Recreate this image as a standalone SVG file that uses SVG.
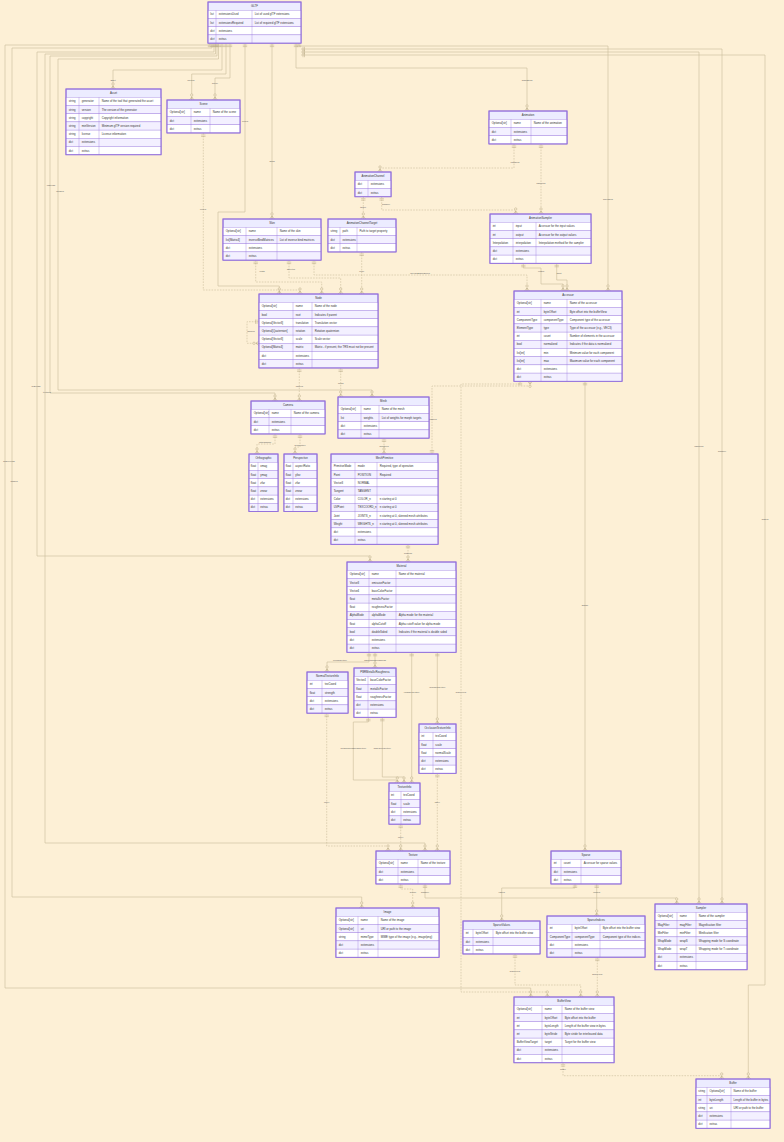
<svg xmlns="http://www.w3.org/2000/svg" width="784" height="1142" viewBox="0 0 784 1142">
<defs>
<style>
text{font-family:"Liberation Sans",Arial,sans-serif;font-size:2.8px;fill:#333}
.t{text-anchor:middle}
.b{fill:#ececff;stroke:#9370db;stroke-width:0.9}
.f{fill:none;stroke:#9370db;stroke-width:0.9}
.o{fill:#ffffff;stroke:#9370db;stroke-width:0.35}
.e{fill:#f3f0ff;stroke:#9370db;stroke-width:0.35}
.cl{fill:none;stroke:#9370db;stroke-width:0.35}
.c{fill:none;stroke:#c9bc9a;stroke-width:0.6;marker-start:url(#m1);marker-end:url(#m2)}
.d{stroke-dasharray:1.6 1.2}
.lb{font-size:2.2px;fill:#555;text-anchor:middle}
</style>
<marker id="m1" viewBox="0 0 6 6" refX="0" refY="3" markerWidth="6" markerHeight="6" markerUnits="userSpaceOnUse" orient="auto"><path d="M2 0.8V5.2M3.5 0.8V5.2" fill="none" stroke="#b9ab86" stroke-width="0.5"/></marker>
<marker id="m2" viewBox="0 0 8 6" refX="8" refY="3" markerWidth="8" markerHeight="6" markerUnits="userSpaceOnUse" orient="auto"><circle cx="3" cy="3" r="1.2" fill="#fdf0d6" stroke="#b9ab86" stroke-width="0.5"/><path d="M5 3L8 0.6M5 3L8 5.4M5 3H8" fill="none" stroke="#b9ab86" stroke-width="0.5"/></marker>
</defs>
<rect x="0" y="0" width="784" height="1142" fill="#fdf0d6"/>

<g id="connectors">
<path class="c" d="M210,43.1 V45 H5 V988 H530.7 V997"/>
<path class="c" d="M212,43.1 V48 H12 V897 H361.7 V908"/>
<path class="c" d="M214,43.1 V52 H37 V556 H370 V562"/>
<path class="c" d="M215.5,43.1 V54 H45 V843 H425 V851"/>
<path class="c" d="M217,43.1 V56 H50 V393 H275 V401"/>
<path class="c" d="M218.5,43.1 V59 H58 V390 H372 V397"/>
<path class="c" d="M222,43.1 V70 H113 V89"/>
<path class="c" d="M226,43.1 V74 H191.7 V100"/>
<path class="c" d="M230,43.1 V78 H215 V100"/>
<path class="c" d="M245,43.1 V212 H218 V286 H279.3 V294"/>
<path class="c" d="M272,43.1 V219"/>
<path class="c" d="M296,43.1 V68 H527 V111"/>
<path class="c" d="M299,43.1 V46 H608 V291"/>
<path class="c" d="M301,49 H722 V904"/>
<path class="c" d="M301,52 H699 V904"/>
<path class="c" d="M301,55 H765 V985 H748.3 V1079"/>
<path class="c d" d="M203.3,133 V290 H300 V294"/>
<path class="c d" d="M514,144 V168 H380 V172"/>
<path class="c d" d="M541,144 V214"/>
<path class="c d" d="M363.3,196.7 V219"/>
<path class="c d" d="M381.7,196.7 V210 H515.7 V214"/>
<path class="c" d="M523.3,263.3 V268 H541 V284 H563 V291"/>
<path class="c" d="M556.7,263.3 V280 H567 V291"/>
<path class="c d" d="M361.7,252 V294"/>
<path class="c d" d="M255.7,260.1 V282 H321.7 V294"/>
<path class="c d" d="M289,260.1 V278 H340.7 V294"/>
<path class="c d" d="M314,260.1 V275 H527 V291"/>
<path class="c d" d="M259,321.7 H247 V343.3 H259"/>
<path class="c d" d="M299.3,368 V401"/>
<path class="c d" d="M340.7,368 V397"/>
<path class="c d" d="M275,434 V444 H257 V454"/>
<path class="c d" d="M300,434 V447 H295 V454"/>
<path class="c d" d="M384,438 V454"/>
<path class="c d" d="M432,454 V386 H530 V381.3"/>
<path class="c d" d="M408,544.3 V562"/>
<path class="c" d="M369,652.3 V662 H327 V672"/>
<path class="c" d="M375,652.3 V668"/>
<path class="c" d="M411.7,652.3 V783"/>
<path class="c" d="M437.3,652.3 V724"/>
<path class="c" d="M368.3,717.3 V722 H353.3 V780 H397.3 V783"/>
<path class="c" d="M382.3,717.3 V777 H404 V783"/>
<path class="c d" d="M326.7,713.1 V846 H388 V851"/>
<path class="c d" d="M400.7,824.1 V851"/>
<path class="c d" d="M437.3,773.3 V851"/>
<path class="c d" d="M400.7,884 V889 H412.7 V908"/>
<path class="c" d="M425,884 V898 H676.7 V904"/>
<path class="c" d="M585,381.3 V851"/>
<path class="c" d="M575,884 V888 H501.7 V921"/>
<path class="c" d="M596.7,884 V916"/>
<path class="c d" d="M515,953.9 V985 H580.7 V997"/>
<path class="c d" d="M597.3,957.1 V997"/>
<path class="c d" d="M520,381.3 V384 H461 V992 H547.3 V997"/>
<path class="c d" d="M563,1062.7 V1075.7 H721.7 V1079"/>
</g>
<g id="labels">
<text class="lb" x="9" y="462">bufferViews</text>
<text class="lb" x="14" y="482">images</text>
<text class="lb" x="36" y="387">materials</text>
<text class="lb" x="47" y="393">textures</text>
<text class="lb" x="51" y="186">cameras</text>
<text class="lb" x="60" y="192">meshes</text>
<text class="lb" x="113" y="81">asset</text>
<text class="lb" x="191" y="81">scenes</text>
<text class="lb" x="215" y="84">scene</text>
<text class="lb" x="245" y="122">nodes</text>
<text class="lb" x="272" y="162">skins</text>
<text class="lb" x="527" y="81">animations</text>
<text class="lb" x="608" y="200">accessors</text>
<text class="lb" x="699" y="447">samplers</text>
<text class="lb" x="722" y="452">sampler</text>
<text class="lb" x="765" y="520">buffers</text>
<text class="lb" x="203" y="210">nodes</text>
<text class="lb" x="515" y="163">channels</text>
<text class="lb" x="541" y="184">samplers</text>
<text class="lb" x="363" y="208">target</text>
<text class="lb" x="386" y="205">sampler</text>
<text class="lb" x="541" y="272">output</text>
<text class="lb" x="559" y="274">input</text>
<text class="lb" x="361.7" y="272">node</text>
<text class="lb" x="262" y="272">joints</text>
<text class="lb" x="291" y="270">skeleton</text>
<text class="lb" x="420" y="274">inverseBindMatrices</text>
<text class="lb" x="251" y="332">children</text>
<text class="lb" x="299.3" y="387">camera</text>
<text class="lb" x="340.7" y="384">mesh</text>
<text class="lb" x="265" y="443">orthographic</text>
<text class="lb" x="300" y="446">perspective</text>
<text class="lb" x="384" y="447">primitives</text>
<text class="lb" x="432" y="420">attributes</text>
<text class="lb" x="408" y="554">material</text>
<text class="lb" x="340" y="661">normalTexture</text>
<text class="lb" x="375" y="661">pbrMetallicRoughness</text>
<text class="lb" x="411.7" y="693">emissiveTexture</text>
<text class="lb" x="437.3" y="688">occlusionTexture</text>
<text class="lb" x="353.3" y="749">metallicRoughnessTexture</text>
<text class="lb" x="382.3" y="749">baseColorTexture</text>
<text class="lb" x="326.7" y="803">index</text>
<text class="lb" x="400.7" y="838">index</text>
<text class="lb" x="437.3" y="803">index</text>
<text class="lb" x="413" y="893">source</text>
<text class="lb" x="425" y="893">sampler</text>
<text class="lb" x="585" y="606">sparse</text>
<text class="lb" x="501.7" y="893">values</text>
<text class="lb" x="596.7" y="893">indices</text>
<text class="lb" x="515" y="972">bufferView</text>
<text class="lb" x="597.3" y="975">bufferView</text>
<text class="lb" x="461" y="693">bufferView</text>
<text class="lb" x="563" y="1070">buffer</text>
</g>

<g id="n-gltf">
<rect class="b" x="208" y="2" width="93" height="41.1"/>
<rect class="o" x="208" y="10.3" width="93" height="8.2"/><rect class="e" x="208" y="18.5" width="93" height="8.2"/><rect class="o" x="208" y="26.7" width="93" height="8.2"/><rect class="e" x="208" y="34.9" width="93" height="8.2"/>
<path class="cl" d="M216 10.3V43.1M252 10.3V43.1"/><rect class="f" x="208" y="2" width="93" height="41.1"/>
<text class="t" x="254.5" y="7.2">GLTF</text>
<text x="210.3" y="15.4">list</text><text x="218.7" y="15.4">extensionsUsed</text><text x="254.7" y="15.4">List of used glTF extensions</text>
<text x="210.3" y="23.6">list</text><text x="218.7" y="23.6">extensionsRequired</text><text x="254.7" y="23.6">List of required glTF extensions</text>
<text x="210.3" y="31.8">dict</text><text x="218.7" y="31.8">extensions</text>
<text x="210.3" y="40">dict</text><text x="218.7" y="40">extras</text>
</g>

<g id="n-asset">
<rect class="b" x="66" y="89" width="95" height="65.7"/>
<rect class="o" x="66" y="97.3" width="95" height="8.2"/><rect class="e" x="66" y="105.5" width="95" height="8.2"/><rect class="o" x="66" y="113.7" width="95" height="8.2"/><rect class="e" x="66" y="121.9" width="95" height="8.2"/><rect class="o" x="66" y="130.1" width="95" height="8.2"/><rect class="e" x="66" y="138.3" width="95" height="8.2"/><rect class="o" x="66" y="146.5" width="95" height="8.2"/>
<path class="cl" d="M79 97.3V154.7M99 97.3V154.7"/><rect class="f" x="66" y="89" width="95" height="65.7"/>
<text class="t" x="113.5" y="94.2">Asset</text>
<text x="68.7" y="102.4">string</text><text x="81.7" y="102.4">generator</text><text x="101.7" y="102.4">Name of the tool that generated the asset</text>
<text x="68.7" y="110.6">string</text><text x="81.7" y="110.6">version</text><text x="101.7" y="110.6">The version of the generator</text>
<text x="68.7" y="118.8">string</text><text x="81.7" y="118.8">copyright</text><text x="101.7" y="118.8">Copyright information</text>
<text x="68.7" y="127">string</text><text x="81.7" y="127">minVersion</text><text x="101.7" y="127">Minimum glTF version required</text>
<text x="68.7" y="135.2">string</text><text x="81.7" y="135.2">license</text><text x="101.7" y="135.2">License information</text>
<text x="68.7" y="143.4">dict</text><text x="81.7" y="143.4">extensions</text>
<text x="68.7" y="151.6">dict</text><text x="81.7" y="151.6">extras</text>
</g>

<g id="n-scene">
<rect class="b" x="167" y="100" width="73" height="32.9"/>
<rect class="o" x="167" y="108.3" width="73" height="8.2"/><rect class="e" x="167" y="116.5" width="73" height="8.2"/><rect class="o" x="167" y="124.7" width="73" height="8.2"/>
<path class="cl" d="M191 108.3V132.9M210 108.3V132.9"/><rect class="f" x="167" y="100" width="73" height="32.9"/>
<text class="t" x="203.5" y="105.2">Scene</text>
<text x="169.7" y="113.4">Optional[str]</text><text x="193.7" y="113.4">name</text><text x="212.7" y="113.4">Name of the scene</text>
<text x="169.7" y="121.6">dict</text><text x="193.7" y="121.6">extensions</text>
<text x="169.7" y="129.8">dict</text><text x="193.7" y="129.8">extras</text>
</g>

<g id="n-animation">
<rect class="b" x="489" y="111" width="78" height="32.9"/>
<rect class="o" x="489" y="119.3" width="78" height="8.2"/><rect class="e" x="489" y="127.5" width="78" height="8.2"/><rect class="o" x="489" y="135.7" width="78" height="8.2"/>
<path class="cl" d="M511 119.3V143.9M531 119.3V143.9"/><rect class="f" x="489" y="111" width="78" height="32.9"/>
<text class="t" x="528" y="116.2">Animation</text>
<text x="491.7" y="124.4">Optional[str]</text><text x="513.7" y="124.4">name</text><text x="533.7" y="124.4">Name of the animation</text>
<text x="491.7" y="132.6">dict</text><text x="513.7" y="132.6">extensions</text>
<text x="491.7" y="140.8">dict</text><text x="513.7" y="140.8">extras</text>
</g>

<g id="n-animationchannel">
<rect class="b" x="355" y="172" width="36" height="24.7"/>
<rect class="o" x="355" y="180.3" width="36" height="8.2"/><rect class="e" x="355" y="188.5" width="36" height="8.2"/>
<path class="cl" d="M368 180.3V196.7"/><rect class="f" x="355" y="172" width="36" height="24.7"/>
<text class="t" x="373" y="177.2">AnimationChannel</text>
<text x="357.7" y="185.4">dict</text><text x="370.7" y="185.4">extensions</text>
<text x="357.7" y="193.6">dict</text><text x="370.7" y="193.6">extras</text>
</g>

<g id="n-skin">
<rect class="b" x="223" y="219" width="98" height="41.1"/>
<rect class="o" x="223" y="227.3" width="98" height="8.2"/><rect class="e" x="223" y="235.5" width="98" height="8.2"/><rect class="o" x="223" y="243.7" width="98" height="8.2"/><rect class="e" x="223" y="251.9" width="98" height="8.2"/>
<path class="cl" d="M246 227.3V260.1M277 227.3V260.1"/><rect class="f" x="223" y="219" width="98" height="41.1"/>
<text class="t" x="272" y="224.2">Skin</text>
<text x="225.7" y="232.4">Optional[str]</text><text x="248.7" y="232.4">name</text><text x="279.7" y="232.4">Name of the skin</text>
<text x="225.7" y="240.6">list[Matrix4]</text><text x="248.7" y="240.6">inverseBindMatrices</text><text x="279.7" y="240.6">List of inverse bind matrices</text>
<text x="225.7" y="248.8">dict</text><text x="248.7" y="248.8">extensions</text>
<text x="225.7" y="257">dict</text><text x="248.7" y="257">extras</text>
</g>

<g id="n-animationchanneltarget">
<rect class="b" x="328" y="219" width="68" height="32.9"/>
<rect class="o" x="328" y="227.3" width="68" height="8.2"/><rect class="e" x="328" y="235.5" width="68" height="8.2"/><rect class="o" x="328" y="243.7" width="68" height="8.2"/>
<path class="cl" d="M340 227.3V251.9M357 227.3V251.9"/><rect class="f" x="328" y="219" width="68" height="32.9"/>
<text class="t" x="362" y="224.2">AnimationChannelTarget</text>
<text x="330.5" y="232.4">string</text><text x="342.5" y="232.4">path</text><text x="359.5" y="232.4">Path to target property</text>
<text x="330.5" y="240.6">dict</text><text x="342.5" y="240.6">extensions</text>
<text x="330.5" y="248.8">dict</text><text x="342.5" y="248.8">extras</text>
</g>

<g id="n-animationsampler">
<rect class="b" x="490" y="214" width="101" height="49.3"/>
<rect class="o" x="490" y="222.3" width="101" height="8.2"/><rect class="e" x="490" y="230.5" width="101" height="8.2"/><rect class="o" x="490" y="238.7" width="101" height="8.2"/><rect class="e" x="490" y="246.9" width="101" height="8.2"/><rect class="o" x="490" y="255.1" width="101" height="8.2"/>
<path class="cl" d="M513 222.3V263.3M536 222.3V263.3"/><rect class="f" x="490" y="214" width="101" height="49.3"/>
<text class="t" x="540.5" y="219.2">AnimationSampler</text>
<text x="492.7" y="227.4">int</text><text x="515.7" y="227.4">input</text><text x="538.7" y="227.4">Accessor for the input values</text>
<text x="492.7" y="235.6">int</text><text x="515.7" y="235.6">output</text><text x="538.7" y="235.6">Accessor for the output values</text>
<text x="492.7" y="243.8">Interpolation</text><text x="515.7" y="243.8">interpolation</text><text x="538.7" y="243.8">Interpolation method for the sampler</text>
<text x="492.7" y="252">dict</text><text x="515.7" y="252">extensions</text>
<text x="492.7" y="260.2">dict</text><text x="515.7" y="260.2">extras</text>
</g>

<g id="n-accessor">
<rect class="b" x="514" y="291" width="108" height="90.3"/>
<rect class="o" x="514" y="299.3" width="108" height="8.2"/><rect class="e" x="514" y="307.5" width="108" height="8.2"/><rect class="o" x="514" y="315.7" width="108" height="8.2"/><rect class="e" x="514" y="323.9" width="108" height="8.2"/><rect class="o" x="514" y="332.1" width="108" height="8.2"/><rect class="e" x="514" y="340.3" width="108" height="8.2"/><rect class="o" x="514" y="348.5" width="108" height="8.2"/><rect class="e" x="514" y="356.7" width="108" height="8.2"/><rect class="o" x="514" y="364.9" width="108" height="8.2"/><rect class="e" x="514" y="373.1" width="108" height="8.2"/>
<path class="cl" d="M541 299.3V381.3M567 299.3V381.3"/><rect class="f" x="514" y="291" width="108" height="90.3"/>
<text class="t" x="568" y="296.2">Accessor</text>
<text x="516.7" y="304.4">Optional[str]</text><text x="543.7" y="304.4">name</text><text x="569.7" y="304.4">Name of the accessor</text>
<text x="516.7" y="312.6">int</text><text x="543.7" y="312.6">byteOffset</text><text x="569.7" y="312.6">Byte offset into the bufferView</text>
<text x="516.7" y="320.8">ComponentType</text><text x="543.7" y="320.8">componentType</text><text x="569.7" y="320.8">Component type of the accessor</text>
<text x="516.7" y="329">ElementType</text><text x="543.7" y="329">type</text><text x="569.7" y="329">Type of the accessor (e.g., VEC3)</text>
<text x="516.7" y="337.2">int</text><text x="543.7" y="337.2">count</text><text x="569.7" y="337.2">Number of elements in the accessor</text>
<text x="516.7" y="345.4">bool</text><text x="543.7" y="345.4">normalized</text><text x="569.7" y="345.4">Indicates if the data is normalized</text>
<text x="516.7" y="353.6">list[int]</text><text x="543.7" y="353.6">min</text><text x="569.7" y="353.6">Minimum value for each component</text>
<text x="516.7" y="361.8">list[int]</text><text x="543.7" y="361.8">max</text><text x="569.7" y="361.8">Maximum value for each component</text>
<text x="516.7" y="370">dict</text><text x="543.7" y="370">extensions</text>
<text x="516.7" y="378.2">dict</text><text x="543.7" y="378.2">extras</text>
</g>

<g id="n-node">
<rect class="b" x="259" y="294" width="119" height="73.9"/>
<rect class="o" x="259" y="302.3" width="119" height="8.2"/><rect class="e" x="259" y="310.5" width="119" height="8.2"/><rect class="o" x="259" y="318.7" width="119" height="8.2"/><rect class="e" x="259" y="326.9" width="119" height="8.2"/><rect class="o" x="259" y="335.1" width="119" height="8.2"/><rect class="e" x="259" y="343.3" width="119" height="8.2"/><rect class="o" x="259" y="351.5" width="119" height="8.2"/><rect class="e" x="259" y="359.7" width="119" height="8.2"/>
<path class="cl" d="M293 302.3V367.9M312 302.3V367.9"/><rect class="f" x="259" y="294" width="119" height="73.9"/>
<text class="t" x="318.5" y="299.2">Node</text>
<text x="261.7" y="307.4">Optional[str]</text><text x="295.7" y="307.4">name</text><text x="314.7" y="307.4">Name of the node</text>
<text x="261.7" y="315.6">bool</text><text x="295.7" y="315.6">root</text><text x="314.7" y="315.6">Indicates if parent</text>
<text x="261.7" y="323.8">Optional[Vector3]</text><text x="295.7" y="323.8">translation</text><text x="314.7" y="323.8">Translation vector</text>
<text x="261.7" y="332">Optional[Quaternion]</text><text x="295.7" y="332">rotation</text><text x="314.7" y="332">Rotation quaternion</text>
<text x="261.7" y="340.2">Optional[Vector3]</text><text x="295.7" y="340.2">scale</text><text x="314.7" y="340.2">Scale vector</text>
<text x="261.7" y="348.4">Optional[Matrix4]</text><text x="295.7" y="348.4">matrix</text><text x="314.7" y="348.4">Matrix - if present, the TRS must not be present</text>
<text x="261.7" y="356.6">dict</text><text x="295.7" y="356.6">extensions</text>
<text x="261.7" y="364.8">dict</text><text x="295.7" y="364.8">extras</text>
</g>

<g id="n-camera">
<rect class="b" x="251" y="401" width="74" height="32.9"/>
<rect class="o" x="251" y="409.3" width="74" height="8.2"/><rect class="e" x="251" y="417.5" width="74" height="8.2"/><rect class="o" x="251" y="425.7" width="74" height="8.2"/>
<path class="cl" d="M269 409.3V433.9M291 409.3V433.9"/><rect class="f" x="251" y="401" width="74" height="32.9"/>
<text class="t" x="288" y="406.2">Camera</text>
<text x="253.7" y="414.4">Optional[str]</text><text x="271.7" y="414.4">name</text><text x="293.7" y="414.4">Name of the camera</text>
<text x="253.7" y="422.6">dict</text><text x="271.7" y="422.6">extensions</text>
<text x="253.7" y="430.8">dict</text><text x="271.7" y="430.8">extras</text>
</g>

<g id="n-mesh">
<rect class="b" x="338" y="397" width="91" height="41.1"/>
<rect class="o" x="338" y="405.3" width="91" height="8.2"/><rect class="e" x="338" y="413.5" width="91" height="8.2"/><rect class="o" x="338" y="421.7" width="91" height="8.2"/><rect class="e" x="338" y="429.9" width="91" height="8.2"/>
<path class="cl" d="M361 405.3V438.1M379 405.3V438.1"/><rect class="f" x="338" y="397" width="91" height="41.1"/>
<text class="t" x="383.5" y="402.2">Mesh</text>
<text x="340.7" y="410.4">Optional[str]</text><text x="363.7" y="410.4">name</text><text x="381.7" y="410.4">Name of the mesh</text>
<text x="340.7" y="418.6">list</text><text x="363.7" y="418.6">weights</text><text x="381.7" y="418.6">List of weights for morph targets</text>
<text x="340.7" y="426.8">dict</text><text x="363.7" y="426.8">extensions</text>
<text x="340.7" y="435">dict</text><text x="363.7" y="435">extras</text>
</g>

<g id="n-orthographic">
<rect class="b" x="249" y="454" width="29" height="57.5"/>
<rect class="o" x="249" y="462.3" width="29" height="8.2"/><rect class="e" x="249" y="470.5" width="29" height="8.2"/><rect class="o" x="249" y="478.7" width="29" height="8.2"/><rect class="e" x="249" y="486.9" width="29" height="8.2"/><rect class="o" x="249" y="495.1" width="29" height="8.2"/><rect class="e" x="249" y="503.3" width="29" height="8.2"/>
<path class="cl" d="M258 462.3V511.5"/><rect class="f" x="249" y="454" width="29" height="57.5"/>
<text class="t" x="263.5" y="459.2">Orthographic</text>
<text x="250.8" y="467.4">float</text><text x="260.3" y="467.4">xmag</text>
<text x="250.8" y="475.6">float</text><text x="260.3" y="475.6">ymag</text>
<text x="250.8" y="483.8">float</text><text x="260.3" y="483.8">zfar</text>
<text x="250.8" y="492">float</text><text x="260.3" y="492">znear</text>
<text x="250.8" y="500.2">dict</text><text x="260.3" y="500.2">extensions</text>
<text x="250.8" y="508.4">dict</text><text x="260.3" y="508.4">extras</text>
</g>

<g id="n-perspective">
<rect class="b" x="284" y="454" width="33" height="57.5"/>
<rect class="o" x="284" y="462.3" width="33" height="8.2"/><rect class="e" x="284" y="470.5" width="33" height="8.2"/><rect class="o" x="284" y="478.7" width="33" height="8.2"/><rect class="e" x="284" y="486.9" width="33" height="8.2"/><rect class="o" x="284" y="495.1" width="33" height="8.2"/><rect class="e" x="284" y="503.3" width="33" height="8.2"/>
<path class="cl" d="M293 462.3V511.5"/><rect class="f" x="284" y="454" width="33" height="57.5"/>
<text class="t" x="300.5" y="459.2">Perspective</text>
<text x="285.8" y="467.4">float</text><text x="295.3" y="467.4">aspectRatio</text>
<text x="285.8" y="475.6">float</text><text x="295.3" y="475.6">yfov</text>
<text x="285.8" y="483.8">float</text><text x="295.3" y="483.8">zfar</text>
<text x="285.8" y="492">float</text><text x="295.3" y="492">znear</text>
<text x="285.8" y="500.2">dict</text><text x="295.3" y="500.2">extensions</text>
<text x="285.8" y="508.4">dict</text><text x="295.3" y="508.4">extras</text>
</g>

<g id="n-meshprimitive">
<rect class="b" x="331" y="454" width="107" height="90.3"/>
<rect class="o" x="331" y="462.3" width="107" height="8.2"/><rect class="e" x="331" y="470.5" width="107" height="8.2"/><rect class="o" x="331" y="478.7" width="107" height="8.2"/><rect class="e" x="331" y="486.9" width="107" height="8.2"/><rect class="o" x="331" y="495.1" width="107" height="8.2"/><rect class="e" x="331" y="503.3" width="107" height="8.2"/><rect class="o" x="331" y="511.5" width="107" height="8.2"/><rect class="e" x="331" y="519.7" width="107" height="8.2"/><rect class="o" x="331" y="527.9" width="107" height="8.2"/><rect class="e" x="331" y="536.1" width="107" height="8.2"/>
<path class="cl" d="M355 462.3V544.3M377 462.3V544.3"/><rect class="f" x="331" y="454" width="107" height="90.3"/>
<text class="t" x="384.5" y="459.2">MeshPrimitive</text>
<text x="333.7" y="467.4">PrimitiveMode</text><text x="357.7" y="467.4">mode</text><text x="379.7" y="467.4">Required, type of operation</text>
<text x="333.7" y="475.6">Point</text><text x="357.7" y="475.6">POSITION</text><text x="379.7" y="475.6">Required</text>
<text x="333.7" y="483.8">Vector3</text><text x="357.7" y="483.8">NORMAL</text>
<text x="333.7" y="492">Tangent</text><text x="357.7" y="492">TANGENT</text>
<text x="333.7" y="500.2">Color</text><text x="357.7" y="500.2">COLOR_n</text><text x="379.7" y="500.2">n starting at 0</text>
<text x="333.7" y="508.4">UVPoint</text><text x="357.7" y="508.4">TEXCOORD_n</text><text x="379.7" y="508.4">n starting at 0</text>
<text x="333.7" y="516.6">Joint</text><text x="357.7" y="516.6">JOINTS_n</text><text x="379.7" y="516.6">n starting at 0, skinned mesh attributes</text>
<text x="333.7" y="524.8">Weight</text><text x="357.7" y="524.8">WEIGHTS_n</text><text x="379.7" y="524.8">n starting at 0, skinned mesh attributes</text>
<text x="333.7" y="533">dict</text><text x="357.7" y="533">extensions</text>
<text x="333.7" y="541.2">dict</text><text x="357.7" y="541.2">extras</text>
</g>

<g id="n-material">
<rect class="b" x="347" y="562" width="109" height="90.3"/>
<rect class="o" x="347" y="570.3" width="109" height="8.2"/><rect class="e" x="347" y="578.5" width="109" height="8.2"/><rect class="o" x="347" y="586.7" width="109" height="8.2"/><rect class="e" x="347" y="594.9" width="109" height="8.2"/><rect class="o" x="347" y="603.1" width="109" height="8.2"/><rect class="e" x="347" y="611.3" width="109" height="8.2"/><rect class="o" x="347" y="619.5" width="109" height="8.2"/><rect class="e" x="347" y="627.7" width="109" height="8.2"/><rect class="o" x="347" y="635.9" width="109" height="8.2"/><rect class="e" x="347" y="644.1" width="109" height="8.2"/>
<path class="cl" d="M369 570.3V652.3M396 570.3V652.3"/><rect class="f" x="347" y="562" width="109" height="90.3"/>
<text class="t" x="401.5" y="567.2">Material</text>
<text x="349.7" y="575.4">Optional[str]</text><text x="371.7" y="575.4">name</text><text x="398.7" y="575.4">Name of the material</text>
<text x="349.7" y="583.6">Vector3</text><text x="371.7" y="583.6">emissiveFactor</text>
<text x="349.7" y="591.8">Vector4</text><text x="371.7" y="591.8">baseColorFactor</text>
<text x="349.7" y="600">float</text><text x="371.7" y="600">metallicFactor</text>
<text x="349.7" y="608.2">float</text><text x="371.7" y="608.2">roughnessFactor</text>
<text x="349.7" y="616.4">AlphaMode</text><text x="371.7" y="616.4">alphaMode</text><text x="398.7" y="616.4">Alpha mode for the material</text>
<text x="349.7" y="624.6">float</text><text x="371.7" y="624.6">alphaCutoff</text><text x="398.7" y="624.6">Alpha cutoff value for alpha mode</text>
<text x="349.7" y="632.8">bool</text><text x="371.7" y="632.8">doubleSided</text><text x="398.7" y="632.8">Indicates if the material is double sided</text>
<text x="349.7" y="641">dict</text><text x="371.7" y="641">extensions</text>
<text x="349.7" y="649.2">dict</text><text x="371.7" y="649.2">extras</text>
</g>

<g id="n-normaltextureinfo">
<rect class="b" x="307" y="672" width="41" height="41.1"/>
<rect class="o" x="307" y="680.3" width="41" height="8.2"/><rect class="e" x="307" y="688.5" width="41" height="8.2"/><rect class="o" x="307" y="696.7" width="41" height="8.2"/><rect class="e" x="307" y="704.9" width="41" height="8.2"/>
<path class="cl" d="M322 680.3V713.1"/><rect class="f" x="307" y="672" width="41" height="41.1"/>
<text class="t" x="327.5" y="677.2">NormalTextureInfo</text>
<text x="309.7" y="685.4">int</text><text x="324.7" y="685.4">texCoord</text>
<text x="309.7" y="693.6">float</text><text x="324.7" y="693.6">strength</text>
<text x="309.7" y="701.8">dict</text><text x="324.7" y="701.8">extensions</text>
<text x="309.7" y="710">dict</text><text x="324.7" y="710">extras</text>
</g>

<g id="n-pbrmetallicroughness">
<rect class="b" x="354" y="668" width="42" height="49.3"/>
<rect class="o" x="354" y="676.3" width="42" height="8.2"/><rect class="e" x="354" y="684.5" width="42" height="8.2"/><rect class="o" x="354" y="692.7" width="42" height="8.2"/><rect class="e" x="354" y="700.9" width="42" height="8.2"/><rect class="o" x="354" y="709.1" width="42" height="8.2"/>
<path class="cl" d="M368 676.3V717.3"/><rect class="f" x="354" y="668" width="42" height="49.3"/>
<text class="t" x="375" y="673.2">PBRMetallicRoughness</text>
<text x="356.3" y="681.4">Vector4</text><text x="370.3" y="681.4">baseColorFactor</text>
<text x="356.3" y="689.6">float</text><text x="370.3" y="689.6">metallicFactor</text>
<text x="356.3" y="697.8">float</text><text x="370.3" y="697.8">roughnessFactor</text>
<text x="356.3" y="706">dict</text><text x="370.3" y="706">extensions</text>
<text x="356.3" y="714.2">dict</text><text x="370.3" y="714.2">extras</text>
</g>

<g id="n-occlusiontextureinfo">
<rect class="b" x="419" y="724" width="37" height="49.3"/>
<rect class="o" x="419" y="732.3" width="37" height="8.2"/><rect class="e" x="419" y="740.5" width="37" height="8.2"/><rect class="o" x="419" y="748.7" width="37" height="8.2"/><rect class="e" x="419" y="756.9" width="37" height="8.2"/><rect class="o" x="419" y="765.1" width="37" height="8.2"/>
<path class="cl" d="M433 732.3V773.3"/><rect class="f" x="419" y="724" width="37" height="49.3"/>
<text class="t" x="437.5" y="729.2">OcclusionTextureInfo</text>
<text x="421.3" y="737.4">int</text><text x="435.3" y="737.4">texCoord</text>
<text x="421.3" y="745.6">float</text><text x="435.3" y="745.6">scale</text>
<text x="421.3" y="753.8">float</text><text x="435.3" y="753.8">normalScale</text>
<text x="421.3" y="762">dict</text><text x="435.3" y="762">extensions</text>
<text x="421.3" y="770.2">dict</text><text x="435.3" y="770.2">extras</text>
</g>

<g id="n-textureinfo">
<rect class="b" x="389" y="783" width="31" height="41.1"/>
<rect class="o" x="389" y="791.3" width="31" height="8.2"/><rect class="e" x="389" y="799.5" width="31" height="8.2"/><rect class="o" x="389" y="807.7" width="31" height="8.2"/><rect class="e" x="389" y="815.9" width="31" height="8.2"/>
<path class="cl" d="M401 791.3V824.1"/><rect class="f" x="389" y="783" width="31" height="41.1"/>
<text class="t" x="404.5" y="788.2">TextureInfo</text>
<text x="391" y="796.4">int</text><text x="403.3" y="796.4">texCoord</text>
<text x="391" y="804.6">float</text><text x="403.3" y="804.6">scale</text>
<text x="391" y="812.8">dict</text><text x="403.3" y="812.8">extensions</text>
<text x="391" y="821">dict</text><text x="403.3" y="821">extras</text>
</g>

<g id="n-texture">
<rect class="b" x="376" y="851" width="74" height="32.9"/>
<rect class="o" x="376" y="859.3" width="74" height="8.2"/><rect class="e" x="376" y="867.5" width="74" height="8.2"/><rect class="o" x="376" y="875.7" width="74" height="8.2"/>
<path class="cl" d="M398 859.3V883.9M418 859.3V883.9"/><rect class="f" x="376" y="851" width="74" height="32.9"/>
<text class="t" x="413" y="856.2">Texture</text>
<text x="378.7" y="864.4">Optional[str]</text><text x="400.7" y="864.4">name</text><text x="420.7" y="864.4">Name of the texture</text>
<text x="378.7" y="872.6">dict</text><text x="400.7" y="872.6">extensions</text>
<text x="378.7" y="880.8">dict</text><text x="400.7" y="880.8">extras</text>
</g>

<g id="n-sparse">
<rect class="b" x="551" y="851" width="70" height="32.9"/>
<rect class="o" x="551" y="859.3" width="70" height="8.2"/><rect class="e" x="551" y="867.5" width="70" height="8.2"/><rect class="o" x="551" y="875.7" width="70" height="8.2"/>
<path class="cl" d="M561 859.3V883.9M581 859.3V883.9"/><rect class="f" x="551" y="851" width="70" height="32.9"/>
<text class="t" x="586" y="856.2">Sparse</text>
<text x="553.7" y="864.4">int</text><text x="563.7" y="864.4">count</text><text x="583.7" y="864.4">Accessor for sparse values</text>
<text x="553.7" y="872.6">dict</text><text x="563.7" y="872.6">extensions</text>
<text x="553.7" y="880.8">dict</text><text x="563.7" y="880.8">extras</text>
</g>

<g id="n-image">
<rect class="b" x="336" y="908" width="103" height="49.3"/>
<rect class="o" x="336" y="916.3" width="103" height="8.2"/><rect class="e" x="336" y="924.5" width="103" height="8.2"/><rect class="o" x="336" y="932.7" width="103" height="8.2"/><rect class="e" x="336" y="940.9" width="103" height="8.2"/><rect class="o" x="336" y="949.1" width="103" height="8.2"/>
<path class="cl" d="M358 916.3V957.3M378 916.3V957.3"/><rect class="f" x="336" y="908" width="103" height="49.3"/>
<text class="t" x="387.5" y="913.2">Image</text>
<text x="338.7" y="921.4">Optional[str]</text><text x="360.7" y="921.4">name</text><text x="380.7" y="921.4">Name of the image</text>
<text x="338.7" y="929.6">Optional[str]</text><text x="360.7" y="929.6">uri</text><text x="380.7" y="929.6">URI or path to the image</text>
<text x="338.7" y="937.8">string</text><text x="360.7" y="937.8">mimeType</text><text x="380.7" y="937.8">MIME type of the image (e.g., image/png)</text>
<text x="338.7" y="946">dict</text><text x="360.7" y="946">extensions</text>
<text x="338.7" y="954.2">dict</text><text x="360.7" y="954.2">extras</text>
</g>

<g id="n-sparsevalues">
<rect class="b" x="463" y="921" width="77" height="32.9"/>
<rect class="o" x="463" y="929.3" width="77" height="8.2"/><rect class="e" x="463" y="937.5" width="77" height="8.2"/><rect class="o" x="463" y="945.7" width="77" height="8.2"/>
<path class="cl" d="M473 929.3V953.9M493 929.3V953.9"/><rect class="f" x="463" y="921" width="77" height="32.9"/>
<text class="t" x="501.5" y="926.2">SparseValues</text>
<text x="465.7" y="934.4">int</text><text x="475.7" y="934.4">byteOffset</text><text x="495.7" y="934.4">Byte offset into the buffer view</text>
<text x="465.7" y="942.6">dict</text><text x="475.7" y="942.6">extensions</text>
<text x="465.7" y="950.8">dict</text><text x="475.7" y="950.8">extras</text>
</g>

<g id="n-sparseindices">
<rect class="b" x="547" y="916" width="98" height="41.1"/>
<rect class="o" x="547" y="924.3" width="98" height="8.2"/><rect class="e" x="547" y="932.5" width="98" height="8.2"/><rect class="o" x="547" y="940.7" width="98" height="8.2"/><rect class="e" x="547" y="948.9" width="98" height="8.2"/>
<path class="cl" d="M572 924.3V957.1M600 924.3V957.1"/><rect class="f" x="547" y="916" width="98" height="41.1"/>
<text class="t" x="596" y="921.2">SparseIndices</text>
<text x="549.7" y="929.4">int</text><text x="574.7" y="929.4">byteOffset</text><text x="602.7" y="929.4">Byte offset into the buffer view</text>
<text x="549.7" y="937.6">ComponentType</text><text x="574.7" y="937.6">componentType</text><text x="602.7" y="937.6">Component type of the indices</text>
<text x="549.7" y="945.8">dict</text><text x="574.7" y="945.8">extensions</text>
<text x="549.7" y="954">dict</text><text x="574.7" y="954">extras</text>
</g>

<g id="n-sampler">
<rect class="b" x="655" y="904" width="92" height="65.7"/>
<rect class="o" x="655" y="912.3" width="92" height="8.2"/><rect class="e" x="655" y="920.5" width="92" height="8.2"/><rect class="o" x="655" y="928.7" width="92" height="8.2"/><rect class="e" x="655" y="936.9" width="92" height="8.2"/><rect class="o" x="655" y="945.1" width="92" height="8.2"/><rect class="e" x="655" y="953.3" width="92" height="8.2"/><rect class="o" x="655" y="961.5" width="92" height="8.2"/>
<path class="cl" d="M677 912.3V969.7M696 912.3V969.7"/><rect class="f" x="655" y="904" width="92" height="65.7"/>
<text class="t" x="701" y="909.2">Sampler</text>
<text x="657.7" y="917.4">Optional[str]</text><text x="679.7" y="917.4">name</text><text x="698.7" y="917.4">Name of the sampler</text>
<text x="657.7" y="925.6">MagFilter</text><text x="679.7" y="925.6">magFilter</text><text x="698.7" y="925.6">Magnification filter</text>
<text x="657.7" y="933.8">MinFilter</text><text x="679.7" y="933.8">minFilter</text><text x="698.7" y="933.8">Minification filter</text>
<text x="657.7" y="942">WrapMode</text><text x="679.7" y="942">wrapS</text><text x="698.7" y="942">Wrapping mode for S coordinate</text>
<text x="657.7" y="950.2">WrapMode</text><text x="679.7" y="950.2">wrapT</text><text x="698.7" y="950.2">Wrapping mode for T coordinate</text>
<text x="657.7" y="958.4">dict</text><text x="679.7" y="958.4">extensions</text>
<text x="657.7" y="966.6">dict</text><text x="679.7" y="966.6">extras</text>
</g>

<g id="n-bufferview">
<rect class="b" x="514" y="997" width="100" height="65.7"/>
<rect class="o" x="514" y="1005.3" width="100" height="8.2"/><rect class="e" x="514" y="1013.5" width="100" height="8.2"/><rect class="o" x="514" y="1021.7" width="100" height="8.2"/><rect class="e" x="514" y="1029.9" width="100" height="8.2"/><rect class="o" x="514" y="1038.1" width="100" height="8.2"/><rect class="e" x="514" y="1046.3" width="100" height="8.2"/><rect class="o" x="514" y="1054.5" width="100" height="8.2"/>
<path class="cl" d="M542 1005.3V1062.7M562 1005.3V1062.7"/><rect class="f" x="514" y="997" width="100" height="65.7"/>
<text class="t" x="564" y="1002.2">BufferView</text>
<text x="516.7" y="1010.4">Optional[str]</text><text x="544.7" y="1010.4">name</text><text x="564.7" y="1010.4">Name of the buffer view</text>
<text x="516.7" y="1018.6">int</text><text x="544.7" y="1018.6">byteOffset</text><text x="564.7" y="1018.6">Byte offset into the buffer</text>
<text x="516.7" y="1026.8">int</text><text x="544.7" y="1026.8">byteLength</text><text x="564.7" y="1026.8">Length of the buffer view in bytes</text>
<text x="516.7" y="1035">int</text><text x="544.7" y="1035">byteStride</text><text x="564.7" y="1035">Byte stride for interleaved data</text>
<text x="516.7" y="1043.2">BufferViewTarget</text><text x="544.7" y="1043.2">target</text><text x="564.7" y="1043.2">Target for the buffer view</text>
<text x="516.7" y="1051.4">dict</text><text x="544.7" y="1051.4">extensions</text>
<text x="516.7" y="1059.6">dict</text><text x="544.7" y="1059.6">extras</text>
</g>

<g id="n-buffer">
<rect class="b" x="696" y="1079" width="74" height="49.3"/>
<rect class="o" x="696" y="1087.3" width="74" height="8.2"/><rect class="e" x="696" y="1095.5" width="74" height="8.2"/><rect class="o" x="696" y="1103.7" width="74" height="8.2"/><rect class="e" x="696" y="1111.9" width="74" height="8.2"/><rect class="o" x="696" y="1120.1" width="74" height="8.2"/>
<path class="cl" d="M707 1087.3V1128.3M731 1087.3V1128.3"/><rect class="f" x="696" y="1079" width="74" height="49.3"/>
<text class="t" x="733" y="1084.2">Buffer</text>
<text x="698.3" y="1092.4">string</text><text x="709.5" y="1092.4">Optional[str]</text><text x="733.5" y="1092.4">Name of the buffer</text>
<text x="698.3" y="1100.6">int</text><text x="709.5" y="1100.6">byteLength</text><text x="733.5" y="1100.6">Length of the buffer in bytes</text>
<text x="698.3" y="1108.8">string</text><text x="709.5" y="1108.8">uri</text><text x="733.5" y="1108.8">URI or path to the buffer</text>
<text x="698.3" y="1117">dict</text><text x="709.5" y="1117">extensions</text>
<text x="698.3" y="1125.2">dict</text><text x="709.5" y="1125.2">extras</text>
</g>
</svg>
